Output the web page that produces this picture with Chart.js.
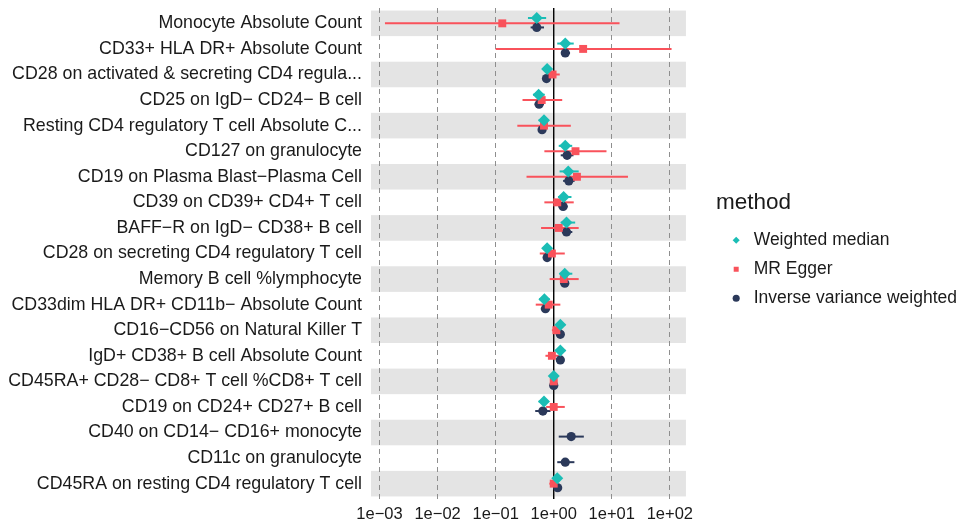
<!DOCTYPE html>
<html lang="en">
<head>
    <meta charset="UTF-8">
    <title>MR forest plot</title>
    <script src="https://cdn.jsdelivr.net/npm/chart.js"></script>
    <style>
        body { margin: 0; background: #fff; }
        .wrap { position: relative; width: 967px; height: 525px; }
    </style>
</head>
<body>
    <div class="wrap">
        <canvas id="forestChart"></canvas>
    </div>

    <script>
        // exposures, top to bottom
        const categories = [
            'Monocyte Absolute Count',
            'CD33+ HLA DR+ Absolute Count',
            'CD28 on activated & secreting CD4 regula...',
            'CD25 on IgD\u2212 CD24\u2212 B cell',
            'Resting CD4 regulatory T cell Absolute C...',
            'CD127 on granulocyte',
            'CD19 on Plasma Blast\u2212Plasma Cell',
            'CD39 on CD39+ CD4+ T cell',
            'BAFF\u2212R on IgD\u2212 CD38+ B cell',
            'CD28 on secreting CD4 regulatory T cell',
            'Memory B cell %lymphocyte',
            'CD33dim HLA DR+ CD11b\u2212 Absolute Count',
            'CD16\u2212CD56 on Natural Killer T',
            'IgD+ CD38+ B cell Absolute Count',
            'CD45RA+ CD28\u2212 CD8+ T cell %CD8+ T cell',
            'CD19 on CD24+ CD27+ B cell',
            'CD40 on CD14\u2212 CD16+ monocyte',
            'CD11c on granulocyte',
            'CD45RA on resting CD4 regulatory T cell'
        ];

        const methods = ['Weighted median', 'MR Egger', 'Inverse variance weighted'];

        // odds ratios and 95% CI (null = method not reported)
        const wmOR    = [0.51, 1.58, 0.77, 0.55, 0.68, 1.58, 1.78, 1.48, 1.66, 0.77, 1.55, 0.69, 1.30, 1.30, 1.00, 0.68, null, null, 1.15];
        const wmLower = [0.36, 1.15, 0.68, 0.44, 0.55, 1.22, 1.26, 1.19, 1.32, 0.65, 1.26, 0.56, 1.12, 1.07, 0.91, 0.55, null, null, 1.00];
        const wmUpper = [0.74, 2.21, 0.87, 0.70, 0.81, 2.08, 2.69, 2.02, 2.34, 0.91, 2.09, 0.85, 1.58, 1.58, 1.10, 0.81, null, null, 1.32];

        const eggerOR    = [0.13, 3.21, 0.955, 0.62, 0.68, 2.37, 2.51, 1.15, 1.22, 0.93, 1.49, 0.82, 1.11, 0.93, 1.00, 1.00, null, null, 1.00];
        const eggerLower = [0.00124, 0.10, 0.77, 0.29, 0.236, 0.69, 0.34, 0.69, 0.605, 0.575, 0.85, 0.49, 0.93, 0.72, 0.87, 0.74, null, null, 0.84];
        const eggerUpper = [13.6, 107, 1.27, 1.40, 1.97, 8.1, 19.0, 2.21, 2.69, 1.55, 2.69, 1.30, 1.38, 1.22, 1.15, 1.55, null, null, 1.19];

        const ivwOR    = [0.51, 1.58, 0.75, 0.56, 0.63, 1.70, 1.82, 1.45, 1.66, 0.77, 1.55, 0.72, 1.30, 1.30, 1.00, 0.65, 2.00, 1.58, 1.17];
        const ivwLower = [0.40, 1.35, 0.69, 0.47, 0.54, 1.32, 1.45, 1.20, 1.38, 0.68, 1.29, 0.60, 1.15, 1.15, 0.93, 0.48, 1.22, 1.15, 1.02];
        const ivwUpper = [0.68, 1.91, 0.81, 0.68, 0.74, 2.19, 2.29, 1.74, 2.09, 0.87, 1.82, 0.87, 1.48, 1.51, 1.07, 0.88, 3.30, 2.27, 1.35];

        const xTickValues = [1e-3, 1e-2, 1e-1, 1, 10, 100];

        const colors = ['#1BBDB5', '#F9525B', '#2B395A'];
        const shapes = ['rectRot', 'rect', 'circle'];
        const radii = [6, 5.6, 4.6];
        const dodge = [-0.21, 0, 0.16];

        function buildPoints(est, lo, hi, shift) {
            const pts = [];
            est.forEach((v, i) => {
                if (v === null) return;
                pts.push({ x: v, y: i + 1 + shift, lo: lo[i], hi: hi[i] });
            });
            return pts;
        }

        const series = [
            buildPoints(wmOR, wmLower, wmUpper, dodge[0]),
            buildPoints(eggerOR, eggerLower, eggerUpper, dodge[1]),
            buildPoints(ivwOR, ivwLower, ivwUpper, dodge[2])
        ];

        function fmtExp(v) {
            const e = Math.round(Math.log10(v));
            return '1e' + (e < 0 ? '\u2212' : '+') + String(Math.abs(e)).padStart(2, '0');
        }

        // alternating grey row bands
        const rowBands = {
            id: 'rowBands',
            beforeDraw(chart) {
                const { ctx, chartArea, scales: { y } } = chart;
                ctx.save();
                ctx.fillStyle = '#E4E4E4';
                categories.forEach((c, i) => {
                    if (i % 2) return;
                    const a = y.getPixelForValue(i + 0.5);
                    const b = y.getPixelForValue(i + 1.5);
                    ctx.fillRect(chartArea.left, Math.min(a, b), chartArea.right - chartArea.left, Math.abs(b - a));
                });
                ctx.restore();
            }
        };

        // reference line at OR = 1 and horizontal CI bars
        const errorBars = {
            id: 'errorBars',
            beforeDatasetsDraw(chart) {
                const { ctx, chartArea, scales: { x, y } } = chart;
                ctx.save();
                const x1 = x.getPixelForValue(1);
                ctx.strokeStyle = '#000';
                ctx.lineWidth = 1.4;
                ctx.beginPath();
                ctx.moveTo(x1, chartArea.top);
                ctx.lineTo(x1, chartArea.bottom);
                ctx.stroke();

                chart.data.datasets.forEach((ds, di) => {
                    if (!chart.isDatasetVisible(di)) return;
                    ctx.strokeStyle = ds.backgroundColor;
                    ctx.lineWidth = 2;
                    ds.data.forEach(p => {
                        const py = y.getPixelForValue(p.y);
                        ctx.beginPath();
                        ctx.moveTo(x.getPixelForValue(p.lo), py);
                        ctx.lineTo(x.getPixelForValue(p.hi), py);
                        ctx.stroke();
                    });
                });
                ctx.restore();
            }
        };

        const textColor = '#1A1A1A';
        const fontFamily = '"Liberation Sans", Arial, Helvetica, sans-serif';

        new Chart(document.getElementById('forestChart'), {
            type: 'scatter',
            data: {
                datasets: methods.map((m, i) => ({
                    label: m,
                    data: series[i],
                    backgroundColor: colors[i],
                    borderColor: colors[i],
                    borderWidth: 0,
                    pointStyle: shapes[i],
                    pointRadius: radii[i],
                    pointHoverRadius: radii[i],
                    yAxisID: 'y'
                }))
            },
            options: {
                responsive: true,
                maintainAspectRatio: false,
                animation: false,
                layout: { padding: { top: 8, left: 0, right: 0, bottom: 0 } },
                scales: {
                    x: {
                        type: 'logarithmic',
                        min: Math.pow(10, -3.147),
                        max: Math.pow(10, 2.277),
                        afterBuildTicks: scale => {
                            scale.ticks = xTickValues.map(v => ({ value: v }));
                        },
                        afterFit: scale => { scale.height = 26; },
                        grid: { color: '#8E8E8E', lineWidth: 1, drawTicks: false },
                        border: { display: false, dash: [5, 4] },
                        ticks: {
                            padding: 6,
                            autoSkip: false,
                            maxRotation: 0,
                            color: textColor,
                            font: { family: fontFamily, size: 16.5 },
                            callback: v => fmtExp(v)
                        }
                    },
                    y: {
                        type: 'linear',
                        position: 'left',
                        reverse: true,
                        min: 0.4,
                        max: 19.6,
                        afterBuildTicks: scale => {
                            scale.ticks = categories.map((c, i) => ({ value: i + 1 }));
                        },
                        afterFit: scale => {
                            scale.width = 371;
                            scale.paddingTop = 0;
                            scale.paddingBottom = 0;
                        },
                        grid: { display: false, drawTicks: false },
                        border: { display: false },
                        ticks: {
                            padding: 9,
                            autoSkip: false,
                            color: textColor,
                            font: { family: fontFamily, size: 17.8 },
                            callback: v => categories[Math.round(v) - 1]
                        }
                    },
                    gap: {
                        type: 'linear',
                        position: 'right',
                        grid: { display: false, drawTicks: false },
                        border: { display: false },
                        ticks: { display: false },
                        afterFit: scale => {
                            scale.width = 30;
                            scale.paddingTop = 0;
                            scale.paddingBottom = 0;
                        }
                    }
                },
                plugins: {
                    tooltip: { enabled: false },
                    legend: {
                        position: 'right',
                        align: 'start',
                        maxWidth: 300,
                        title: {
                            display: true,
                            text: 'method',
                            position: 'start',
                            color: textColor,
                            font: { family: fontFamily, size: 22.5 },
                            padding: { top: 184, bottom: 1 }
                        },
                        labels: {
                            usePointStyle: true,
                            boxHeight: 5,
                            padding: 11.5,
                            color: textColor,
                            font: { family: fontFamily, size: 17.5 }
                        }
                    }
                }
            },
            plugins: [rowBands, errorBars]
        });
    </script>
</body>
</html>
